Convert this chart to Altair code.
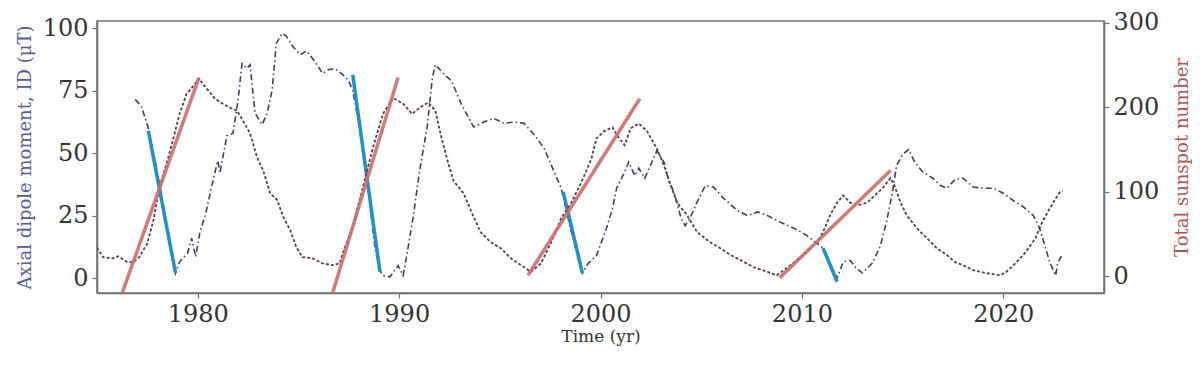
import altair as alt
import pandas as pd

# Axial dipole moment (left axis, uT)
dip_year = [1976.9, 1977.2, 1977.55, 1978.0, 1978.5, 1978.9, 1979.1, 1979.5, 1979.7, 1979.9,
            1980.1, 1980.4, 1980.8, 1981.0, 1981.1, 1981.45, 1981.75, 1982.0, 1982.2, 1982.45,
            1982.6, 1982.85, 1983.2, 1983.45, 1983.7, 1983.9, 1984.2, 1984.4, 1984.7, 1985.1,
            1985.4, 1985.8, 1986.2, 1986.5, 1986.8, 1987.2, 1987.5, 1987.7, 1988.0, 1988.5,
            1988.8, 1989.05, 1989.2, 1989.55, 1989.95, 1990.2, 1990.4, 1990.7, 1991.0, 1991.4,
            1991.65, 1991.8, 1992.2, 1992.6, 1993.1, 1993.7, 1994.2, 1994.7, 1995.2, 1995.7,
            1996.2, 1996.7, 1997.2, 1997.7, 1998.05, 1998.5, 1999.1, 1999.4, 1999.8, 2000.3,
            2000.6, 2000.8, 2001.2, 2001.4, 2001.7, 2001.9, 2002.2, 2002.5, 2002.8, 2003.15,
            2003.4, 2003.65, 2004.0, 2004.2, 2004.45, 2004.8, 2005.2, 2005.6, 2006.1, 2006.8,
            2007.3, 2007.8, 2008.3, 2008.9, 2009.6, 2010.25, 2010.9, 2011.05, 2011.75, 2012.05,
            2012.4, 2012.7, 2013.0, 2013.5, 2013.9, 2014.2, 2014.5, 2014.7, 2015.0, 2015.3,
            2015.6, 2016.0, 2016.5, 2016.9, 2017.2, 2017.6, 2018.0, 2018.5, 2019.0, 2019.5,
            2020.0, 2020.5, 2021.0, 2021.5, 2021.8, 2022.1, 2022.3, 2022.6, 2022.7, 2022.9]
dip_val = [71.5, 69, 60, 42, 20, 2, 6.5, 10, 16, 8.5,
           18, 26, 40.5, 47, 42, 57, 58, 71, 86, 84,
           85.5, 66, 61.5, 66, 75.5, 94, 98, 97, 93, 89.5,
           91, 87, 82, 83.5, 84, 81.5, 79, 75, 62, 33,
           12, 3, 1, 0.5, 5, 1, 10, 24.5, 42, 61,
           80, 85.5, 82, 79, 69.5, 60.5, 62.5, 64, 62, 62.5,
           62, 57.5, 52, 42.5, 36, 20, 2, 6, 9, 20,
           28, 36, 42.5, 46.5, 41, 44, 40, 45.5, 51, 46.5,
           38.5, 34.5, 24, 21, 24, 30.5, 37, 36.5, 32, 27,
           25, 26.5, 25, 22.5, 20, 17, 13, 12, 0, 6.5,
           7, 4, 2, 6, 13, 22.5, 34.5, 45, 49.5, 51.5,
           46.5, 42.5, 40, 37, 36, 39.5, 40, 36.5, 36, 36,
           34, 31, 28.5, 25, 20, 12, 6.5, 1, 6, 9]

# Total sunspot number (right axis)
sun_year = [1975.0, 1975.3, 1975.8, 1976.05, 1976.5, 1976.8, 1977.1, 1977.5, 1977.8, 1978.1,
            1978.5, 1978.8, 1979.1, 1979.45, 1979.8, 1980.05, 1980.45, 1980.85, 1981.25, 1981.6,
            1981.95, 1982.25, 1982.6, 1982.95, 1983.25, 1983.6, 1983.95, 1984.25, 1984.6, 1984.9,
            1985.2, 1985.7, 1986.2, 1986.7, 1987.05, 1987.2, 1987.7, 1988.2, 1988.7, 1989.2,
            1989.7, 1990.2, 1990.65, 1991.05, 1991.45, 1991.8, 1992.05, 1992.4, 1992.7, 1993.2,
            1993.7, 1994.05, 1994.55, 1995.05, 1995.55, 1996.05, 1996.55, 1997.05, 1997.55, 1998.05,
            1998.55, 1999.05, 1999.55, 1999.8, 2000.2, 2000.6, 2000.9, 2001.2, 2001.5, 2001.9,
            2002.3, 2002.8, 2003.15, 2003.45, 2003.8, 2004.3, 2004.8, 2005.45, 2005.95, 2006.45,
            2006.95, 2007.6, 2008.3, 2008.75, 2009.1, 2009.6, 2010.0, 2010.4, 2010.75, 2011.05,
            2011.4, 2011.75, 2012.05, 2012.4, 2012.8, 2013.25, 2013.5, 2014.0, 2014.4, 2014.6,
            2014.9, 2015.2, 2015.7, 2016.2, 2016.7, 2017.2, 2017.6, 2018.0, 2018.5, 2019.15,
            2019.85, 2020.15, 2020.6, 2021.1, 2021.6, 2021.85, 2022.2, 2022.55, 2022.8, 2022.95]
sun_val = [34, 22.5, 21, 23.5, 16.5, 16.5, 22.5, 39, 66, 105,
           137, 164, 192, 216, 225.5, 234, 222, 210, 204, 199.5,
           196, 184, 169, 140.5, 125, 98, 90, 70, 54, 34,
           22.5, 21, 15, 13, 15, 27, 58, 105, 152, 192,
           211, 204, 192, 200, 205.5, 196, 169, 137, 113, 98,
           70, 52, 40, 33, 21, 13, 5, 15, 40, 68.5,
           87, 111, 139, 163, 172, 176, 164, 155, 175, 180.5,
           172, 151, 131, 110, 87, 72, 52, 40, 33, 25,
           19, 10.5, 5, 1, 7, 16, 24, 33, 40, 52,
           72, 87, 95.5, 87, 84, 87, 93, 104, 116, 107,
           87, 72, 57, 45, 33, 25, 16.5, 13, 7, 3.5,
           1, 5, 15, 28, 45, 60, 75.5, 90, 99, 101]

# Linear fits on the sunspot rise (right axis)
red_seg = [1, 1, 2, 2, 3, 3, 4, 4]
red_year = [1976.25, 1980.05, 1986.7, 1989.95, 1996.4, 2001.95, 2008.9, 2014.4]
red_val = [-20, 234, -20, 235, 1, 210, -2, 125]

# Linear fits on the dipole decline (left axis)
blue_seg = [1, 1, 2, 2, 3, 3, 4, 4]
blue_year = [1977.55, 1978.9, 1987.7, 1989.05, 1998.15, 1999.1, 2011.05, 2011.75]
blue_val = [59, 2, 81.5, 2.5, 34.5, 2, 12, -1.5]

dip_df = pd.DataFrame({"year": dip_year, "val": dip_val})
sun_df = pd.DataFrame({"year": sun_year, "val": sun_val})
red_df = pd.DataFrame({"year": red_year, "val": red_val, "seg": red_seg})
blue_df = pd.DataFrame({"year": blue_year, "val": blue_val, "seg": blue_seg})

FONT = "DejaVu Serif"
xscale = alt.Scale(domain=[1975, 2025], nice=False, zero=False)
yl = alt.Scale(domain=[-6, 103], nice=False, zero=False)
yr = alt.Scale(domain=[-20, 302], nice=False, zero=False)

xaxis = alt.Axis(values=[1980, 1990, 2000, 2010, 2020], format="d", title="Time (yr)",
                 titleFontSize=17, titleColor="#333333", titlePadding=2)
laxis = alt.Axis(values=[0, 25, 50, 75, 100], title="Axial dipole moment, ID (μT)",
                 titleColor="#5a5a96", titleFontSize=18, orient="left", titlePadding=8)
raxis = alt.Axis(values=[0, 100, 200, 300], title="Total sunspot number",
                 titleColor="#b05555", titleFontSize=18, orient="right", titleAngle=270,
                 titlePadding=33)

X = alt.X("year:Q", scale=xscale, axis=xaxis)

dip = alt.Chart(dip_df).mark_line(color="#3e3e5e", strokeWidth=1.6, strokeDash=[6, 3, 1.5, 3],
                                  clip=True).encode(x=X, y=alt.Y("val:Q", scale=yl, axis=laxis))
blue = alt.Chart(blue_df).mark_line(color="#2190c8", strokeWidth=3.5, clip=True).encode(
    x=X, y=alt.Y("val:Q", scale=yl, axis=laxis), detail="seg:N")

sun = alt.Chart(sun_df).mark_line(color="#5a4046", strokeWidth=1.8, strokeDash=[3, 2],
                                  clip=True).encode(x=X, y=alt.Y("val:Q", scale=yr, axis=raxis))
red = alt.Chart(red_df).mark_line(color="#cd6b6b", strokeWidth=3.5, opacity=0.9, clip=True).encode(
    x=X, y=alt.Y("val:Q", scale=yr, axis=raxis), detail="seg:N")

left = alt.layer(dip, blue)
right = alt.layer(sun, red)

chart = alt.layer(left, right).resolve_scale(y="independent").properties(
    width=1007, height=272, autosize="none",
    padding={"left": 89, "top": 13, "right": 88, "bottom": 60},
).configure_view(stroke="#707070", strokeWidth=1.5).configure_axis(
    labelFont=FONT, titleFont=FONT, labelFontSize=24, labelColor="#333333",
    titleFontWeight="normal", domainColor="#707070", domainWidth=1.5,
    tickColor="#707070", tickSize=5, tickWidth=1.2, grid=False, labelPadding=4,
)

chart.save("out.html", embed_options={"renderer": "svg", "actions": False})
